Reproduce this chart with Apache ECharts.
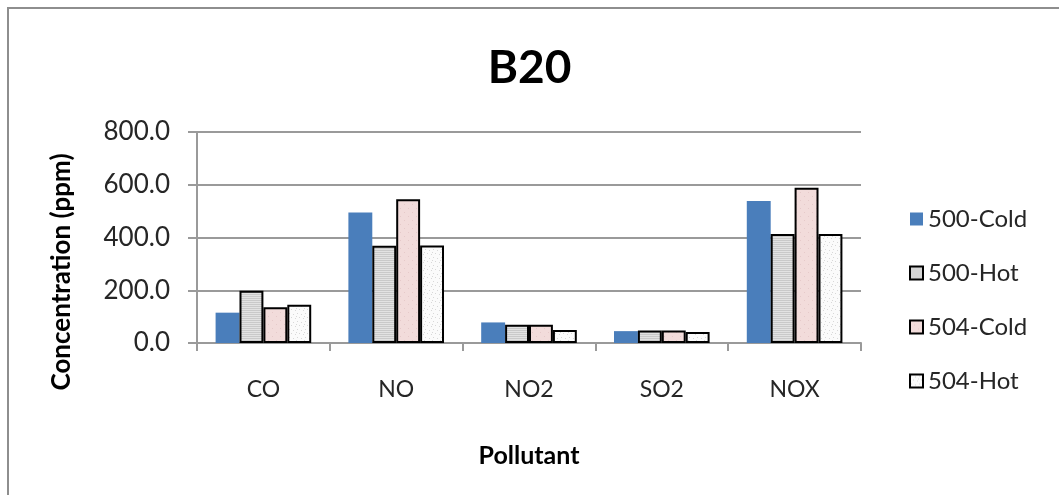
<!DOCTYPE html>
<html>
<head>
<meta charset="utf-8">
<script src="https://cdn.jsdelivr.net/npm/echarts@6/dist/echarts.min.js"></script>
<style>
  html, body { margin: 0; padding: 0; background: #fff; }
  #chart { width: 1059px; height: 495px; }
</style>
</head>
<body>
<div id="chart"></div>
<script>
// Pollutant concentrations (ppm) for the B20 blend
const categories = ['CO', 'NO', 'NO2', 'SO2', 'NOX'];
const cold500 = [115, 495, 78, 45, 538];
const hot500 = [198, 369, 69, 47, 413];
const cold504 = [136, 545, 69, 47, 589];
const hot504 = [145, 370, 49, 42, 413];
const yTicks = [0, 200, 400, 600, 800];

const FONT = 'Lato, "Open Sans", sans-serif';

// Small repeating fill textures for the patterned bars
function makePattern(bg, draw) {
  const c = document.createElement('canvas');
  c.width = 8; c.height = 8;
  const ctx = c.getContext('2d');
  ctx.fillStyle = bg;
  ctx.fillRect(0, 0, 8, 8);
  draw(ctx);
  return { image: c, repeat: 'repeat' };
}
const hLines = makePattern('#e2e2e2', ctx => {
  ctx.fillStyle = '#c9c9c9';
  for (let y = 0; y < 8; y += 2) ctx.fillRect(0, y, 8, 1);
});
const pinkFill = makePattern('#f2dcdb', ctx => {
  ctx.fillStyle = '#e6caca';
  for (let i = 0; i < 8; i += 4) ctx.fillRect(i, i, 1, 1);
});
const dots = makePattern('#fbfbfb', ctx => {
  ctx.fillStyle = '#d8d8d8';
  [[1, 1], [5, 2], [3, 5], [7, 6], [0, 4]].forEach(p => ctx.fillRect(p[0], p[1], 1, 1));
});

const outlined = fill => ({ color: fill, borderColor: '#000', borderWidth: 2 });

const chart = echarts.init(document.getElementById('chart'), null, { renderer: 'canvas' });
chart.setOption({
  animation: false,
  backgroundColor: '#fff',
  textStyle: { fontFamily: FONT },
  title: {
    text: 'B20',
    left: 'center',
    top: 40,
    textStyle: { fontFamily: FONT, fontSize: 46, fontWeight: 'bold', color: '#000' }
  },
  graphic: [{
    type: 'rect',
    shape: { x: 8, y: 8, width: 1200, height: 700 },
    style: { fill: 'none', stroke: '#8e8e8e', lineWidth: 2 },
    silent: true
  }, {
    // vertical axis title, set a little below the plot's centre
    type: 'text',
    x: 62,
    y: 272,
    rotation: Math.PI / 2,
    style: {
      text: 'Concentration (ppm)',
      fill: '#000',
      font: 'bold 26px ' + FONT,
      align: 'center',
      verticalAlign: 'middle'
    },
    silent: true
  }],
  legend: {
    orient: 'vertical',
    left: 904,
    top: 202,
    itemWidth: 13,
    itemHeight: 13,
    itemGap: 30,
    icon: 'rect',
    textStyle: { fontFamily: FONT, fontSize: 24, color: '#262626', lineHeight: 24 },
    data: ['500-Cold', '500-Hot', '504-Cold', '504-Hot']
  },
  grid: { left: 197, right: 198, top: 132, bottom: 152 },
  xAxis: {
    type: 'category',
    data: categories,
    name: 'Pollutant',
    nameLocation: 'middle',
    nameGap: 100,
    nameTextStyle: { fontFamily: FONT, fontSize: 25, fontWeight: 'bold', color: '#000' },
    axisLine: { lineStyle: { color: '#9a9a9a', width: 2 } },
    axisTick: { show: true, length: 8, lineStyle: { color: '#9a9a9a', width: 2 } },
    axisLabel: { margin: 35, fontFamily: FONT, fontSize: 23, color: '#262626' }
  },
  yAxis: {
    type: 'value',
    min: yTicks[0],
    max: yTicks[yTicks.length - 1],
    interval: 200,
    axisLine: { show: true, lineStyle: { color: '#9a9a9a', width: 2 } },
    axisTick: { show: true, length: 9, lineStyle: { color: '#9a9a9a', width: 2 } },
    splitLine: { lineStyle: { color: '#9a9a9a', width: 2 } },
    axisLabel: {
      margin: 27,
      fontFamily: FONT,
      fontSize: 26,
      color: '#262626',
      formatter: v => v.toFixed(1)
    }
  },
  series: [
    { name: '500-Cold', type: 'bar', data: cold500, barGap: '0%', barCategoryGap: '28%',
      itemStyle: { color: '#4a7ebb' } },
    { name: '500-Hot', type: 'bar', data: hot500, itemStyle: outlined(hLines) },
    { name: '504-Cold', type: 'bar', data: cold504, itemStyle: outlined(pinkFill) },
    { name: '504-Hot', type: 'bar', data: hot504, itemStyle: outlined(dots) }
  ]
});
</script>
</body>
</html>
